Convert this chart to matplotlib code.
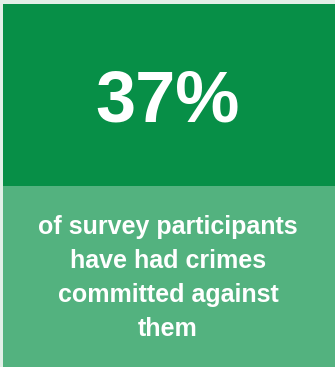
import matplotlib.pyplot as plt
from matplotlib.patches import Rectangle

plt.rcParams['font.family'] = ['Liberation Sans', 'DejaVu Sans']

percent = 37
caption_lines = ["of survey participants", "have had crimes",
                 "committed against", "them"]

W, H = 335, 367
fig = plt.figure(figsize=(W / 100, H / 100), dpi=100)
fig.patch.set_facecolor("#e2efe7")
ax = fig.add_axes([0, 0, 1, 1])
ax.set_xlim(0, W)
ax.set_ylim(H, 0)
ax.axis("off")

# top dark block and bottom light block
ax.add_patch(Rectangle((3, 4), W - 3, 182, facecolor="#078f47", edgecolor="none"))
ax.add_patch(Rectangle((3, 186), W - 3, H - 186, facecolor="#53b27f", edgecolor="none"))

ax.text(168, 122, f"{percent}%", color="white", fontsize=52, fontweight="bold",
        ha="center", va="baseline")

baselines = [234, 268, 302, 336]
for line, y in zip(caption_lines, baselines):
    ax.text(168, y, line, color="white", fontsize=18, fontweight="bold",
            ha="center", va="baseline")

fig.savefig("out.png", dpi=100, facecolor=fig.get_facecolor())
